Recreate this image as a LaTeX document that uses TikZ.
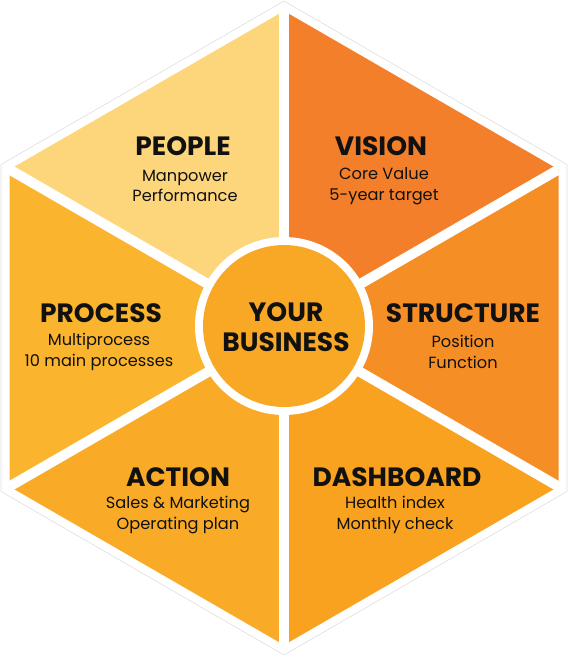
\documentclass[tikz,border=0pt]{standalone}
\usepackage{fontspec}
\setmainfont{Poppins}
\definecolor{cPeople}{HTML}{FDD67B}
\definecolor{cVision}{HTML}{F47F2A}
\definecolor{cStruct}{HTML}{F68E26}
\definecolor{cDash}{HTML}{F9A21F}
\definecolor{cAction}{HTML}{F9AB27}
\definecolor{cProcess}{HTML}{FBB42D}
\definecolor{cCenter}{HTML}{F9A826}
\definecolor{cText}{HTML}{111111}
\tikzset{
  wedge/.style={draw=none},
  gapline/.style={white, line width=10pt},
  ttl/.style={font=\bfseries\fontsize{26.5}{28}\selectfont, text=cText, inner sep=0pt},
  sub/.style={font=\fontsize{16.2}{20.5}\selectfont, text=cText, inner sep=0pt, align=center},
}
\begin{document}
\begin{tikzpicture}[x=1pt,y=-1pt]
\useasboundingbox (0,0) rectangle (569,657);
% outer hexagon
\draw[gray!25, line width=0.6pt, fill=white] (284,1) -- (567,164.5) -- (567,491.5) -- (284,655) -- (1,491.5) -- (1,164.5) -- cycle;
% vertices of colored hexagon
\coordinate (C) at (284,328);
\coordinate (V0) at (284,11);
\coordinate (V1) at (558.5,169.5);
\coordinate (V2) at (558.5,486.5);
\coordinate (V3) at (284,645);
\coordinate (V4) at (9.5,486.5);
\coordinate (V5) at (9.5,169.5);
\fill[cPeople] (C) -- (V5) -- (V0) -- cycle;
\fill[cVision] (C) -- (V0) -- (V1) -- cycle;
\fill[cStruct] (C) -- (V1) -- (V2) -- cycle;
\fill[cDash] (C) -- (V2) -- (V3) -- cycle;
\fill[cAction] (C) -- (V3) -- (V4) -- cycle;
\fill[cProcess] (C) -- (V4) -- (V5) -- cycle;
\foreach \v in {V0,V1,V2,V3,V4,V5} \draw[gapline] (C) -- (\v);
% center circle
\fill[white] (284,326) circle (89);
\fill[cCenter] (284,326) circle (81);
\node[ttl, align=center, font=\bfseries\fontsize{26.5}{30}\selectfont] (biz) at (286,327) {YOUR\\BUSINESS};
% labels
\node[ttl] (people) at (183,146) {PEOPLE};
\node[sub] (peoples) at (185,186) {Manpower\\Performance};
\node[ttl] (vision) at (381,146) {VISION};
\node[sub] (visions) at (384,186) {Core Value\\5-year target};
\node[ttl] (process) at (101,313) {PROCESS};
\node[sub] (processs) at (99,352) {Multiprocess\\10 main processes};
\node[ttl] (structure) at (463,313) {STRUCTURE};
\node[sub] (structures) at (463,352) {Position\\Function};
\node[ttl] (action) at (178,477) {ACTION};
\node[sub] (actions) at (178,515) {Sales \& Marketing\\Operating plan};
\node[ttl] (dashboard) at (397,477) {DASHBOARD};
\node[sub] (dashboards) at (395,515) {Health index\\Monthly check};
\end{tikzpicture}
\end{document}
